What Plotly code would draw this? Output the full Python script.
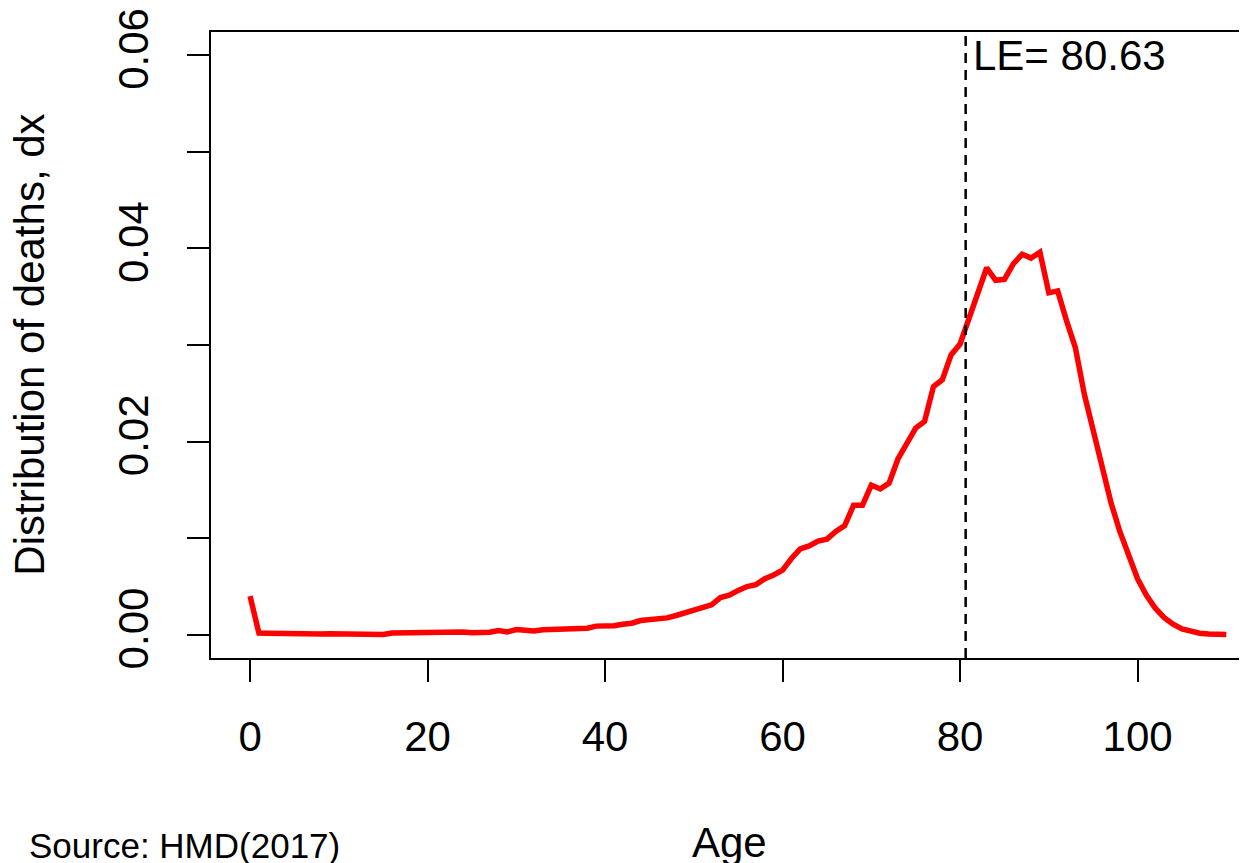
import plotly.graph_objects as go

# distribution of deaths by single year of age
ages = list(range(0, 111))
dx = [
    0.00400, 0.00017, 0.00015, 0.00012, 0.00010, 0.00009, 0.00008, 0.00008, 0.00009, 0.00010,
    0.00010, 0.00011, 0.00012, 0.00013, 0.00010, 0.00003, 0.00018, 0.00021, 0.00024, 0.00026,
    0.00028, 0.00030, 0.00031, 0.00032, 0.00028, 0.00022, 0.00018, 0.00026, 0.00045, 0.00030,
    0.00055, 0.00048, 0.00040, 0.00052, 0.00056, 0.00058, 0.00063, 0.00065, 0.00068, 0.00090,
    0.00090, 0.00095, 0.00110, 0.00120, 0.00148, 0.00156, 0.00158, 0.00175, 0.00200, 0.00228,
    0.00250, 0.00278, 0.00310, 0.00385, 0.00410, 0.00460, 0.00500, 0.00520, 0.00580, 0.00620,
    0.00670, 0.00790, 0.00890, 0.00920, 0.00970, 0.00990, 0.01070, 0.01130, 0.01340, 0.01340,
    0.01550, 0.01510, 0.01570, 0.01820, 0.01980, 0.02140, 0.02210, 0.02570, 0.02640, 0.02900,
    0.03010, 0.03280, 0.03510, 0.03800, 0.03670, 0.03680, 0.03840, 0.03940, 0.03900, 0.03960,
    0.03540, 0.03560, 0.03250, 0.02970, 0.02490, 0.02110, 0.01740, 0.01370, 0.01070, 0.00810,
    0.00580, 0.00410, 0.00275, 0.00178, 0.00110, 0.00062, 0.00034, 0.00017, 0.00008, 0.00004,
    0.00002,
]
life_exp = 80.63

x_ticks = [0, 20, 40, 60, 80, 100]
y_ticks = [0.00, 0.01, 0.02, 0.03, 0.04, 0.05, 0.06]
y_labels = ["0.00", "", "0.02", "", "0.04", "", "0.06"]

FONT = "Liberation Sans, Arial, sans-serif"

fig = go.Figure()
fig.add_trace(go.Scatter(x=ages, y=dx, mode="lines",
                         line=dict(color="#ff0000", width=5.5),
                         showlegend=False, hoverinfo="skip"))

# life expectancy marker
fig.add_shape(type="line", xref="x", yref="paper",
              x0=life_exp, x1=life_exp, y0=0, y1=1,
              line=dict(color="black", width=2.5, dash="10px,7px"))
fig.add_annotation(x=life_exp, y=0.06, xref="x", yref="y",
                   text="LE= %.2f" % life_exp, showarrow=False,
                   xanchor="left", yanchor="middle", xshift=5,
                   font=dict(size=42, color="black", family=FONT))

# axis titles and source note
fig.add_annotation(x=0.5, y=-0.295, xref="paper", yref="paper",
                   text="Age", showarrow=False,
                   xanchor="center", yanchor="middle",
                   font=dict(size=42, color="black", family=FONT))
fig.add_annotation(x=-0.176, y=0.5, xref="paper", yref="paper",
                   text="Distribution of deaths, dx", showarrow=False,
                   textangle=-90, xanchor="center", yanchor="middle",
                   font=dict(size=42, color="black", family=FONT))
fig.add_annotation(x=-0.178, y=-0.299, xref="paper", yref="paper",
                   text="Source: HMD(2017)", showarrow=False,
                   xanchor="left", yanchor="middle",
                   font=dict(size=35, color="black", family=FONT))

fig.update_xaxes(range=[-4.4, 112.33], tickvals=x_ticks,
                 ticks="outside", ticklen=22, tickwidth=2, tickcolor="black",
                 ticklabelstandoff=19, ticklabeloverflow="allow",
                 showline=True, linewidth=2, linecolor="black", mirror=True,
                 showgrid=False, zeroline=False,
                 tickfont=dict(size=42, color="black", family=FONT))
fig.update_yaxes(range=[-0.0024, 0.0624], tickvals=y_ticks, ticktext=y_labels,
                 ticks="outside", ticklen=22, tickwidth=2, tickcolor="black",
                 tickangle=-90, ticklabelstandoff=22, ticklabeloverflow="allow",
                 showline=True, linewidth=2, linecolor="black",
                 showgrid=False, zeroline=False,
                 tickfont=dict(size=42, color="black", family=FONT))

# the page adds an 8px body margin, so the figure is 8px smaller
fig.update_layout(width=1239, height=855,
                  margin=dict(l=203, r=0, t=21, b=205),
                  paper_bgcolor="white", plot_bgcolor="white")

fig.write_html("out.html")
